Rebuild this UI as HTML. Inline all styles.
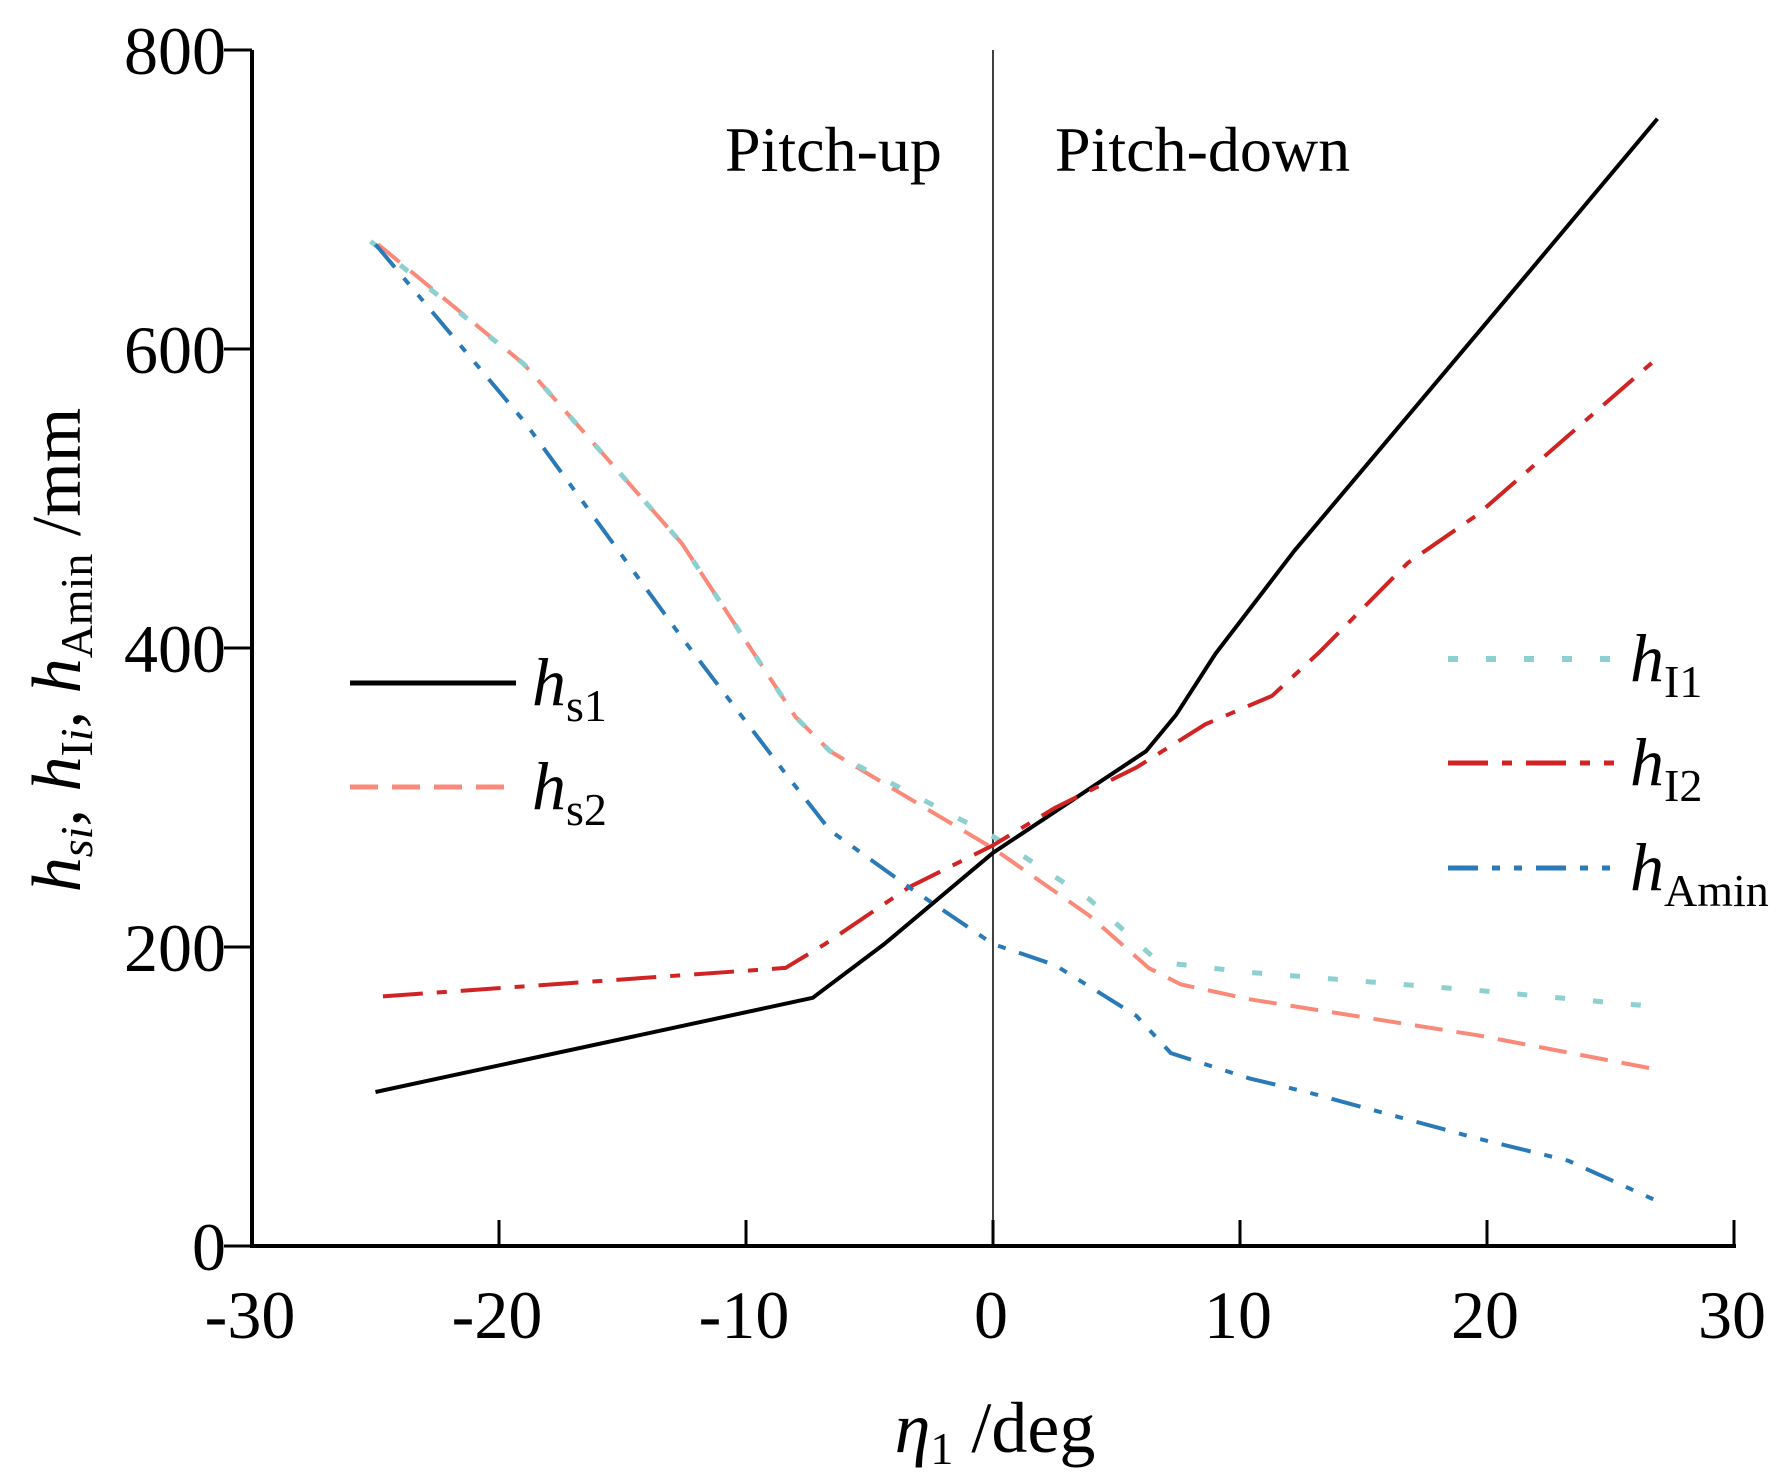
<!DOCTYPE html>
<html><head><meta charset="utf-8"><style>
html,body{margin:0;padding:0;background:#fff;}
svg{display:block;font-family:"Liberation Serif",serif;}
</style></head><body>
<svg id="chart" width="1784" height="1473" viewBox="0 0 1784 1473">
<g id="axes"></g>
<g id="series"></g>
<g id="legend"></g>
</svg>
<script>
const xTicks=[-30,-20,-10,0,10,20,30];
const yTicks=[0,200,400,600,800];
const hs1X=[-25,-7.3,-4.4,0,6.2,7.4,9,12.2,20,26.9];
const hs1Y=[103,166,202,263,331,355,396,465,618,754];
const hI2X=[-24.7,-8.4,-6.8,-3.4,0,2.5,5.8,8.6,11.3,13.2,16.8,19.6,26.9];
const hI2Y=[167,186,202,240,268,293,320,349,368,397,457,489,594];
const hs2X=[-24.9,-19,-12.6,-8,-6.6,0,3.9,6.3,7.6,10.4,19.6,26.9];
const hs2Y=[670,590,470,354,331,266,221,186,175,165,141,118];
const hI1X=[-25.2,-19,-12.6,-8,-6.6,0,3.9,6.7,10.4,19.6,26.9];
const hI1Y=[672,590,470,354,331,274,232,190,183,171,160];
const hAX=[-25,-19,-12.6,-8.4,-6.6,-3.4,0,2.5,5.8,7.2,10.4,12.7,19.6,23.3,26.9];
const hAY=[670,552,407,316,278,240,202,188,154,129,112,103,72,57,30];

const X0=252,X1=1734,Y0=1246,Y1=50;
const sx=v=>X0+(v+30)/60*(X1-X0);
const sy=v=>Y0-v/800*(Y0-Y1);
const NS="http://www.w3.org/2000/svg";
function mk(tag,attrs,parent,text){const e=document.createElementNS(NS,tag);for(const k in attrs)e.setAttribute(k,attrs[k]);if(text!==undefined)e.textContent=text;parent.appendChild(e);return e;}
const axes=document.getElementById('axes'),ser=document.getElementById('series'),leg=document.getElementById('legend');

let a=mk('line',{x1:X0,y1:Y1,x2:X0,y2:Y0+2,stroke:'#000','stroke-width':4},axes);

a=mk('line',{x1:X0-2,y1:Y0,x2:X1+2,y2:Y0,stroke:'#000','stroke-width':4},axes);

a=mk('line',{x1:sx(0),y1:Y1,x2:sx(0),y2:Y0,stroke:'#000','stroke-width':1.5},axes);

xTicks.forEach(t=>{
 const l=mk('line',{x1:sx(t),y1:Y0,x2:sx(t),y2:Y0-26,stroke:'#000','stroke-width':3},axes);
 
 const tx=mk('text',{x:sx(t)-2,y:Y0+92,'font-size':68,'text-anchor':'middle'},axes,String(t));
 
});
yTicks.forEach(t=>{
 const l=mk('line',{x1:X0,y1:sy(t),x2:X0-28,y2:sy(t),stroke:'#000','stroke-width':3},axes);
 
 const tx=mk('text',{x:X0-26,y:sy(t)+24,'font-size':68,'text-anchor':'end'},axes,String(t));
 
});
let t=mk('text',{x:725,y:171,'font-size':64},axes,'Pitch-up');

t=mk('text',{x:1055,y:171,'font-size':64},axes,'Pitch-down');


t=mk('text',{x:995,y:1452,'font-size':72,'text-anchor':'middle'},axes);

t.innerHTML='<tspan font-style="italic">η</tspan><tspan font-size="46" dy="12">1</tspan><tspan dy="-12"> /deg</tspan>';
t=mk('text',{x:0,y:0,'font-size':70,'text-anchor':'middle',transform:'translate(80,650) rotate(-90)'},axes);

t.innerHTML='<tspan font-style="italic">h</tspan><tspan font-size="46" dy="12" font-style="italic">si</tspan><tspan dy="-12">, </tspan><tspan font-style="italic">h</tspan><tspan font-size="46" dy="12">I</tspan><tspan font-size="46" font-style="italic">i</tspan><tspan dy="-12">, </tspan><tspan font-style="italic">h</tspan><tspan font-size="46" dy="12">Amin</tspan><tspan dy="-12"> /mm</tspan>';

const styles=[
 {n:'hs1',xs:hs1X,ys:hs1Y,c:'#000',d:'',w:4,sub:'s1',lx:350,ly:683},
 {n:'hs2',xs:hs2X,ys:hs2Y,c:'#f98a7a',d:'28 14',w:4,sub:'s2',lx:350,ly:787},
 {n:'hI1',xs:hI1X,ys:hI1Y,c:'#8ecfd0',d:'10 28',w:5,sub:'I1',lx:1448,ly:659},
 {n:'hI2',xs:hI2X,ys:hI2Y,c:'#d02424',d:'40 14 10 14',w:4,sub:'I2',lx:1448,ly:763},
 {n:'hAmin',xs:hAX,ys:hAY,c:'#2a7ab8',d:'30 14 8 14 8 14',w:4,sub:'Amin',lx:1448,ly:868}
];
styles.forEach(s=>{
 const pts=s.xs.map((x,i)=>sx(x)+','+sy(s.ys[i])).join(' ');
 const p=mk('polyline',{points:pts,fill:'none',stroke:s.c,'stroke-width':s.w,'stroke-dasharray':s.d,'stroke-linecap':'butt','stroke-linejoin':'round'},ser);
 
 const g=mk('g',{},leg);
 
 mk('line',{x1:s.lx,y1:s.ly,x2:s.lx+166,y2:s.ly,stroke:s.c,'stroke-width':s.w+1,'stroke-dasharray':s.d},g);
 const tx=mk('text',{x:s.lx+182,y:s.ly+22,'font-size':68},g);
 tx.innerHTML='<tspan font-style="italic">h</tspan><tspan font-size="46" dy="16">'+s.sub+'</tspan>';
});
</script>
</body></html>
